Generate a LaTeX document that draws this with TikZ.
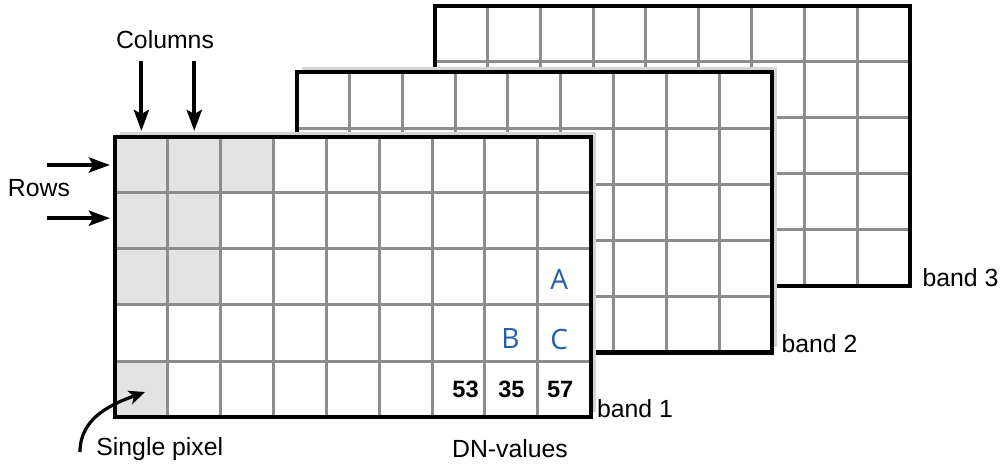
\documentclass[tikz,border=0pt]{standalone}
\usepackage{fontspec}
\setmainfont{Liberation Sans}
\newfontfamily\abcfont{Open Sans}
\usetikzlibrary{positioning,arrows.meta,calc,shadows}
\definecolor{figgrey}{gray}{0.89}
\definecolor{linegrey}{gray}{0.55}
\definecolor{shadowgrey}{gray}{0.83}
\definecolor{letterblue}{RGB}{35,95,170}
\newcommand\pixw{52.85}
\newcommand\pixh{56}
\tikzset{
  fig/.style={font=\fontsize{12.4}{15}\selectfont},
  band/.style={fill=white,minimum width=237.8pt,minimum height=140pt,
               inner sep=0pt,outer sep=0pt},
  shadowed/.style={drop shadow={opacity=1,fill=shadowgrey,
               shadow xshift=2.5pt,shadow yshift=2.5pt}},
  bandframe/.style={draw=black,line width=2pt},
  gridln/.style={draw=linegrey,line width=1.5pt},
  ptr/.style={-{Stealth[length=10.5pt,width=7.5pt,inset=2pt]},line width=2pt},
  curvptr/.style={-{Stealth[length=8pt,width=7pt,inset=2pt]},line width=1.6pt},
  lbl/.style={inner sep=1.5pt},
  dn/.style={font=\fontsize{11.8}{13}\selectfont\bfseries,inner sep=0pt},
  abc/.style={font=\abcfont\fontsize{14}{16}\selectfont,text=letterblue,inner sep=0pt},
}

\begin{document}
\begin{tikzpicture}[fig,x=0.5pt,y=-0.5pt]
\useasboundingbox (0,0) rectangle (1003,465);

% Band 3 (back)
\node[band] (b3) at (672.3,146) {};
\foreach \i in {1,...,8}
  \draw[gridln] ($(b3.north west)+(\i*\pixw,0)$) -- ($(b3.south west)+(\i*\pixw,0)$);
\foreach \j in {1,...,4}
  \draw[gridln] ($(b3.north west)+(0,\j*\pixh)$) -- ($(b3.north east)+(0,\j*\pixh)$);
\draw[bandframe] (b3.north west) rectangle (b3.south east);

% Band 2
\node[band,shadowed] (b2) at (534.3,212.5) {};
\foreach \i in {1,...,8}
  \draw[gridln] ($(b2.north west)+(\i*\pixw,0)$) -- ($(b2.south west)+(\i*\pixw,0)$);
\foreach \j in {1,...,4}
  \draw[gridln] ($(b2.north west)+(0,\j*\pixh)$) -- ($(b2.north east)+(0,\j*\pixh)$);
\draw[bandframe] (b2.north west) rectangle (b2.south east);

% Band 1 (front) with grey pixels
\node[band,shadowed] (b1) at (352.8,277) {};
\foreach \c/\r in {1/1,2/1,3/1,1/2,2/2,1/3,2/3,1/5}
  \fill[figgrey] ($(b1.north west)+(\c*\pixw-\pixw,\r*\pixh-\pixh)$) rectangle ++(\pixw,\pixh);
\foreach \i in {1,...,8}
  \draw[gridln] ($(b1.north west)+(\i*\pixw,0)$) -- ($(b1.south west)+(\i*\pixw,0)$);
\foreach \j in {1,...,4}
  \draw[gridln] ($(b1.north west)+(0,\j*\pixh)$) -- ($(b1.north east)+(0,\j*\pixh)$);
\draw[bandframe] (b1.north west) rectangle (b1.south east);

% Band labels
\node[lbl,anchor=base west] (lb1) at ($(b1.south east)+(3,0)$) {band 1};
\node[lbl,anchor=base west] (lb2) at ($(b2.south east)+(6,0)$) {band 2};
\node[lbl,anchor=base west] (lb3) at ($(b3.south east)+(9,0)$) {band 3};

% Columns
\node[lbl] (colhead) at (165,40) {Columns};
\coordinate (c1) at ($(b1.north west)+(0.5*\pixw,-6)$);
\coordinate (c2) at ($(b1.north west)+(1.5*\pixw,-6)$);
\draw[ptr] ($(colhead.south -| c1)+(0,8)$) -- (c1);
\draw[ptr] ($(colhead.south -| c2)+(0,8)$) -- (c2);

% Rows
\node[lbl] (rowhead) at (39,188) {Rows};
\coordinate (r1) at ($(b1.north west)+(-5,0.5*\pixh)$);
\coordinate (r2) at ($(b1.north west)+(-5,1.45*\pixh)$);
\draw[ptr] ($(r1)+(-63,0)$) -- (r1);
\draw[ptr] ($(r2)+(-63,0)$) -- (r2);

% Single pixel
\node[lbl,anchor=west] (pixlbl) at (93,449) {Single pixel};
\coordinate (pixtip) at ($(b1.south west)+(30,-25)$);
\draw[curvptr] ($(pixlbl.west)+(-13,3)$) to[out=90,in=200] (pixtip);

% DN-values and letters
\node[dn] (v53) at ($(b1.north west)+(6.5*\pixw+7,4.5*\pixh)$) {53};
\node[dn] (v35) at ($(b1.north west)+(7.5*\pixw,4.5*\pixh)$) {35};
\node[dn] (v57) at ($(b1.north west)+(8.5*\pixw-4,4.5*\pixh)$) {57};
\node[lbl] (dnlbl) at (510,449) {DN-values};
\node[abc] (la) at ($(b1.north west)+(8.5*\pixw-5,2.5*\pixh+2)$) {A};
\node[abc] (lbb) at ($(b1.north west)+(7.5*\pixw-1,3.5*\pixh+6)$) {B};
\node[abc] (lc) at ($(b1.north west)+(8.5*\pixw-5,3.5*\pixh+6)$) {C};

\end{tikzpicture}
\end{document}
